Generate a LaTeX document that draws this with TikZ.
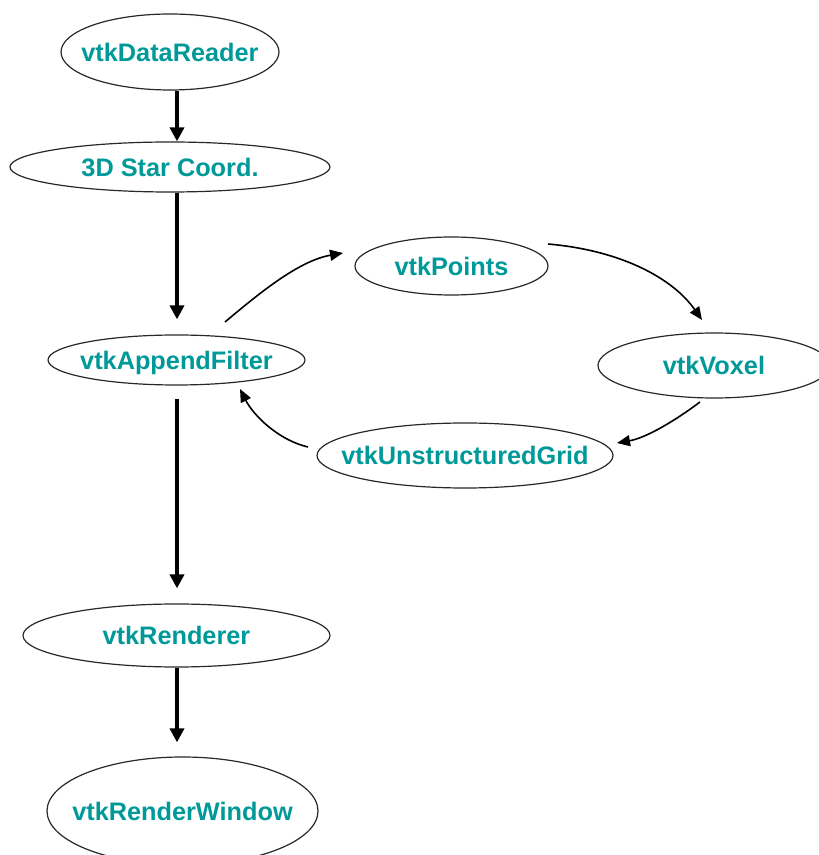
\documentclass[tikz,border=0pt]{standalone}
\usepackage{fontspec}
\setmainfont{Liberation Sans}
\usetikzlibrary{shapes.geometric,arrows.meta}

\definecolor{vtkteal}{RGB}{0,153,153}
\definecolor{rim}{RGB}{40,40,40}

% label text of a stage: zero-size box, caps centred on the node centre
\newcommand\stagetext[1]{\makebox[0pt]{\raisebox{-9.06pt}[0pt][0pt]{#1}}}

\begin{document}
\begin{tikzpicture}[x=1pt,y=1pt,
  stage/.style={ellipse, draw=rim, line width=1.2pt, inner sep=0pt,
    text=vtkteal, font=\bfseries\fontsize{25.3}{30}\selectfont},
  pipe/.style={line width=4pt, -{Triangle[length=14pt,width=14pt]}},
  loopflow/.style={line width=1.6pt, -{Triangle[length=13pt,width=11pt]}}]

  % page
  \fill[white] (0,0) rectangle (819,855);
  \useasboundingbox (0,0) rectangle (819,855);

  % main pipeline
  \node[stage, minimum width=218, minimum height=76] (rdr)  at (170,803)   {\stagetext{vtkDataReader}};
  \node[stage, minimum width=320, minimum height=50] (star) at (170,688)   {\stagetext{3D Star Coord.}};
  \node[stage, minimum width=257, minimum height=50] (app)  at (176.5,495) {\stagetext{vtkAppendFilter}};
  \node[stage, minimum width=307, minimum height=63] (ren)  at (176.5,219.5) {\stagetext{vtkRenderer}};
  \node[stage, minimum width=271, minimum height=108] (win) at (182.5,44)  {\stagetext{vtkRenderWindow}};

  % feedback loop
  \node[stage, minimum width=193, minimum height=58] (pts)  at (451.5,589) {\stagetext{vtkPoints}};
  \node[stage, minimum width=232, minimum height=65] (vox)  at (714,489.5) {\stagetext{vtkVoxel}};
  \node[stage, minimum width=296, minimum height=65] (ug)   at (465,399.5) {\stagetext{vtkUnstructuredGrid}};

  % vertical spine of the pipeline arrows
  \coordinate (spine) at (177,0);

  \draw[pipe] (rdr.south -| spine) -- (star.north -| spine);
  \draw[pipe, shorten >=15pt] (star.south -| spine) -- (app.north -| spine);
  \draw[pipe, shorten <=13pt, shorten >=15pt] (app.south -| spine) -- (ren.north -| spine);
  \draw[pipe, shorten >=14pt] (ren.south -| spine) -- (win.north -| spine);

  % curved loop arrows
  \draw[loopflow] ([shift={(48.5,38)}]app.center) .. controls +(40:45) and +(190:45) .. ([shift={(-108.5,13)}]pts.center);
  \draw[loopflow] ([shift={(96.5,22)}]pts.center) .. controls +(-5:75) and +(125:50) .. ([shift={(-12,45.5)}]vox.center);
  \draw[loopflow] ([shift={(-14,-36.5)}]vox.center) .. controls +(217:30) and +(10:30) .. ([shift={(152,12.5)}]ug.center);
  \draw[loopflow] ([shift={(-157,8.5)}]ug.center) .. controls +(167:30) and +(-63:30) .. ([shift={(63.5,-29)}]app.center);
\end{tikzpicture}
\end{document}
